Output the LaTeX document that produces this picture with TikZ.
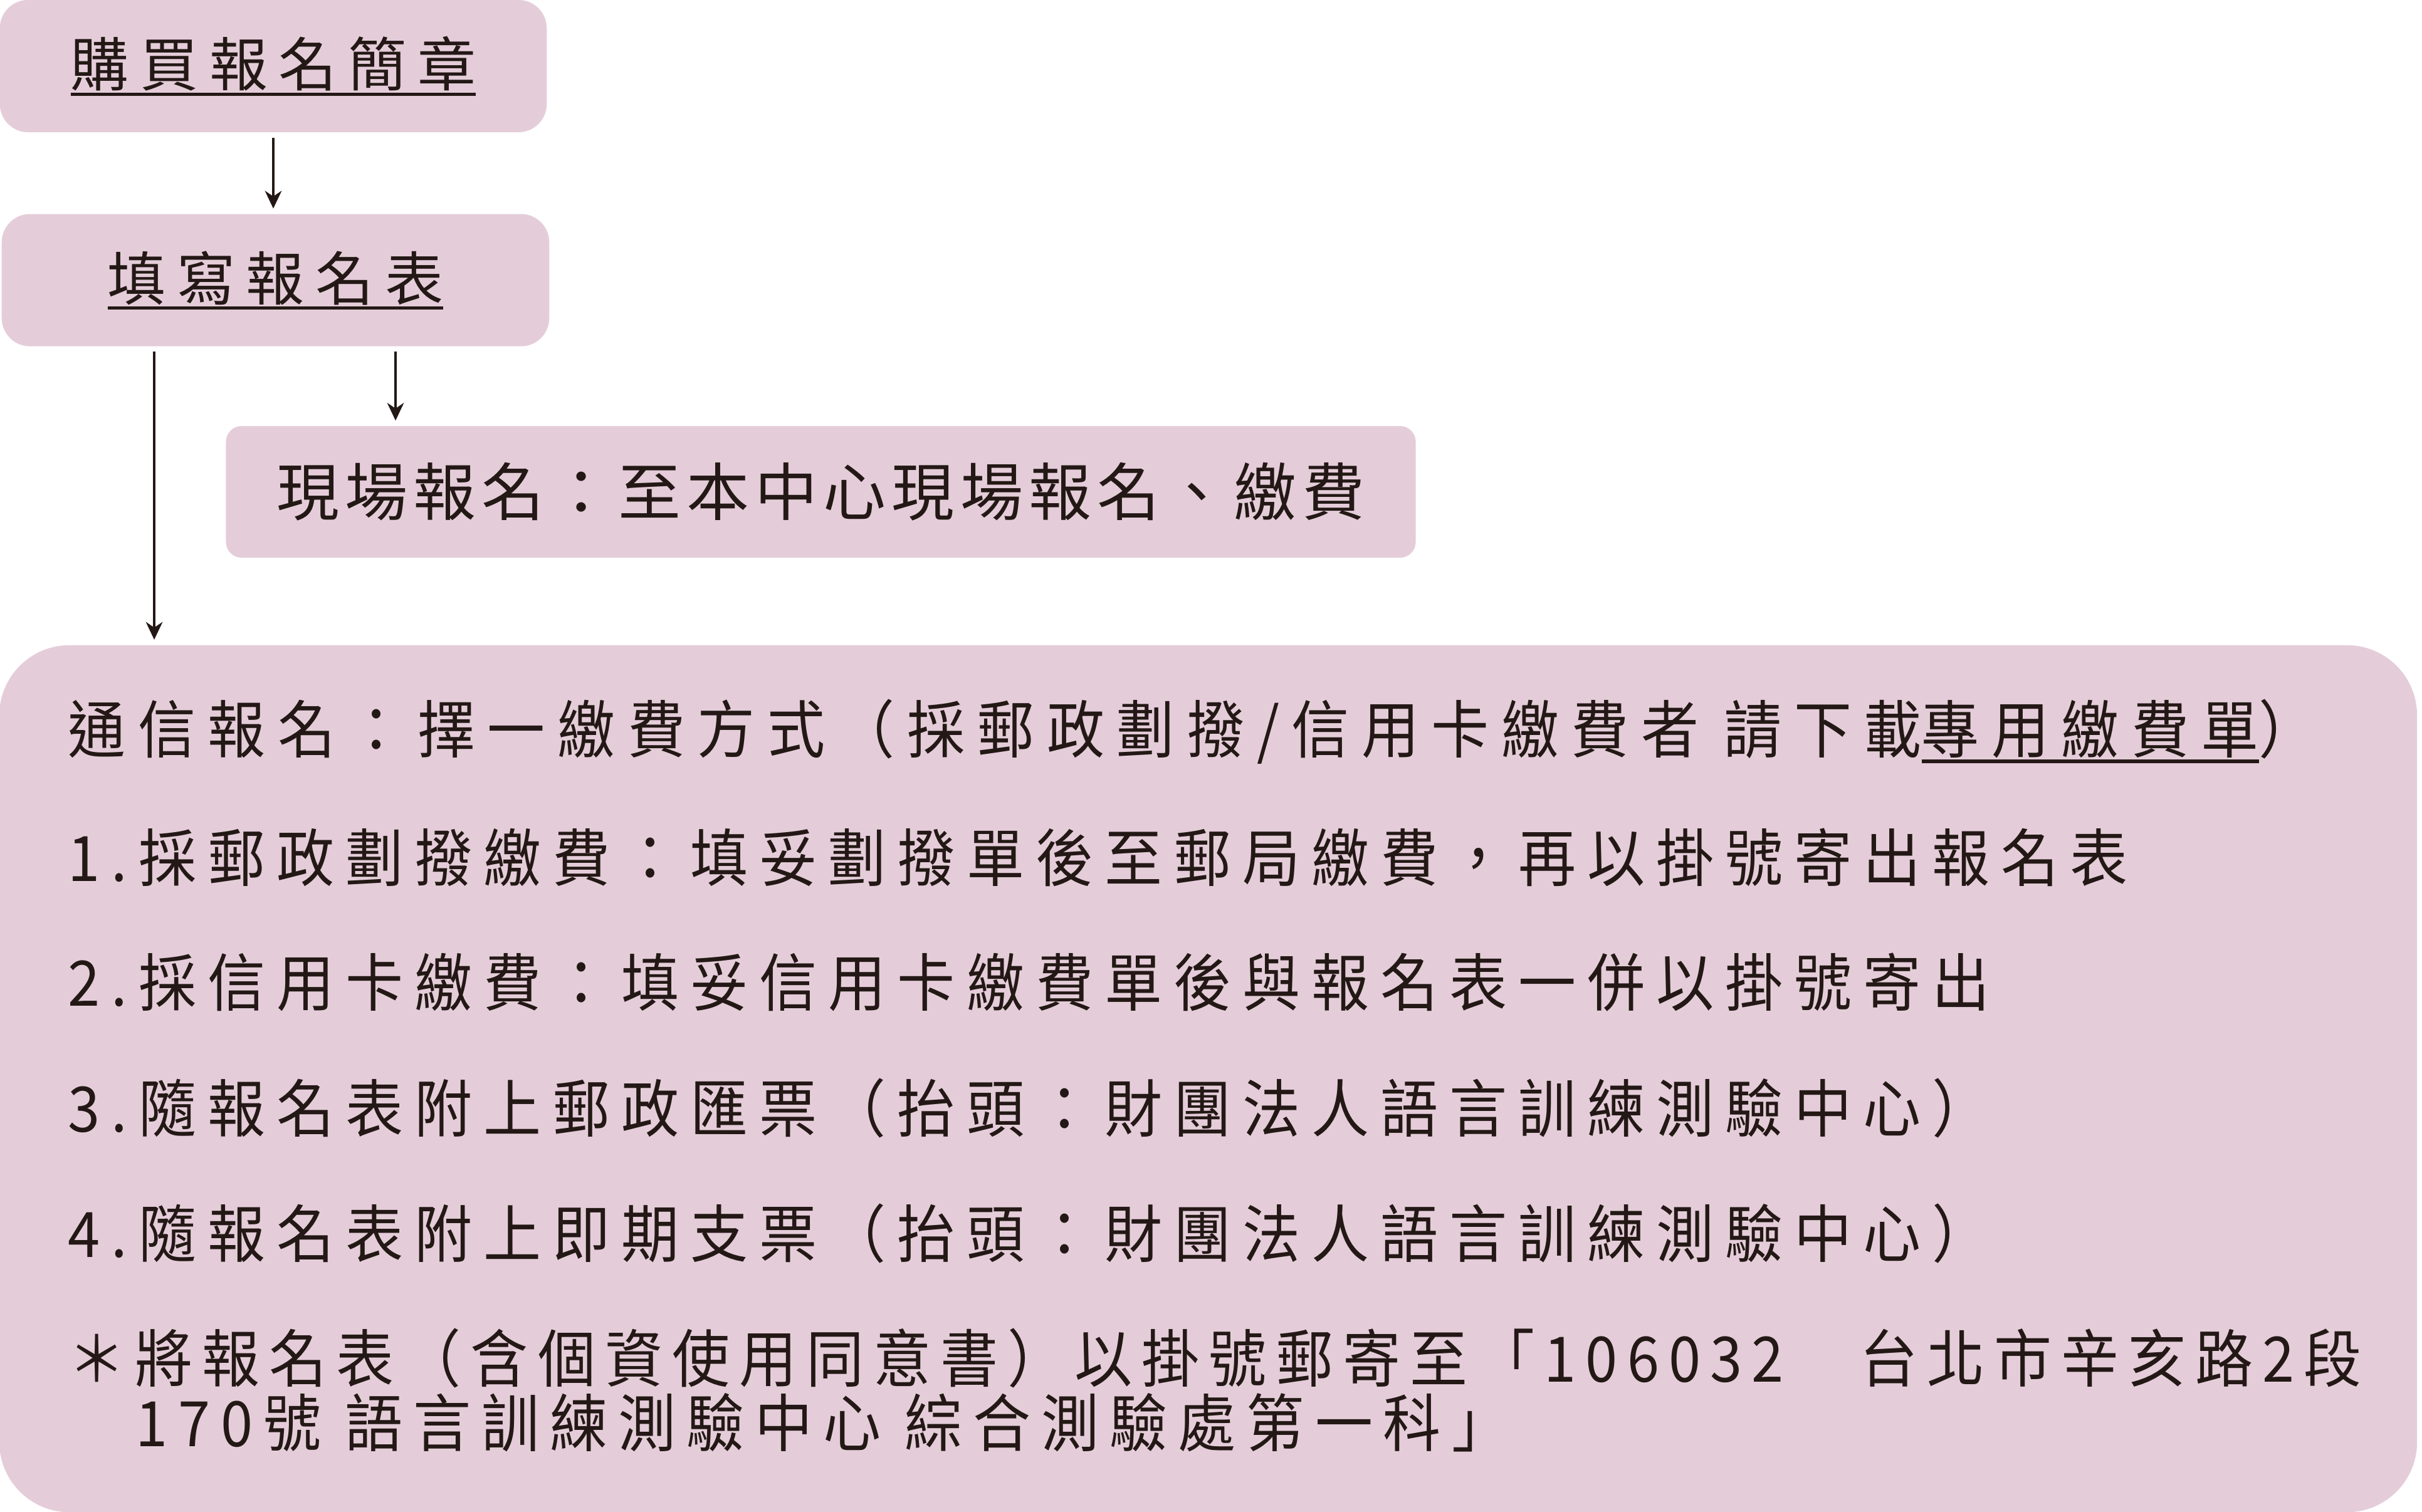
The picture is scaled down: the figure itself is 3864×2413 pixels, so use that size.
\documentclass[tikz,border=0pt]{standalone}
\usepackage{fontspec}
\usetikzlibrary{%
    arrows.meta,
    calc,
    positioning
}

\newfontfamily\stagefont[LetterSpace=19]{Noto Sans CJK TC}
\newfontfamily\sitefont[LetterSpace=9]{Noto Sans CJK TC}
\newfontfamily\postfont[FakeStretch=0.92,LetterSpace=18]{Noto Sans CJK TC}

\definecolor{regpink}{RGB}{228,205,217}
\definecolor{ink}{RGB}{35,24,21}

% underline with a bar that scales with the font
\newcommand{\ulbar}[1]{\setbox0\hbox{#1}\leavevmode\rlap{\rule[-0.16em]{\wd0}{0.055em}}\box0}

\begin{document}
\begin{tikzpicture}[x=0.01cm, y=-0.01cm,
        stage/.style={fill=regpink, rounded corners=0.45cm, inner sep=0pt,
                      text=ink, minimum height=2.11cm},
        entry/.style={anchor=west, inner sep=0pt, text=ink,
                      font=\fontsize{28.45}{34}\postfont},
        arr/.style={draw=ink, line width=1.3pt,
                    -{Stealth[length=8pt, width=7.5pt, inset=2.5pt]},
                    shorten <=0.08cm, shorten >=0.08cm}
    ]
    \useasboundingbox (0,0) rectangle (3864,2413);

    \node (brochure) [stage, minimum width=8.72cm,
                      font=\fontsize{26.46}{32}\stagefont
                     ] at (436,105.5) {\ulbar{購買報名簡章}};
    \node (form)     [stage, minimum width=8.73cm,
                      font=\fontsize{26.46}{32}\stagefont,
                      below=1.29cm of brochure, xshift=0.035cm
                     ] {\ulbar{填寫報名表}};
    \node (onsite)   [stage, rounded corners=0.25cm, minimum width=18.97cm,
                      minimum height=2.1cm,
                      font=\fontsize{28.45}{34}\sitefont
                     ] at (1309.5,785) {現場報名：至本中心現場報名、繳費};
    \node (post)     [stage, rounded corners=1.12cm, minimum width=38.55cm,
                      minimum height=13.83cm
                     ] at (1927.5,1721.5) {};

    \node (post-0) [entry] at (108,1168)
        {\addfontfeature{LetterSpace=19.5}通信報名：擇一繳費方式（採郵政劃撥/信用卡繳費者 請下載\ulbar{專用繳費單}）};
    \foreach \Name/\Y/\Text in {%
        1/1368/{1.採郵政劃撥繳費：填妥劃撥單後至郵局繳費，再以掛號寄出報名表},
        2/1568/{2.採信用卡繳費：填妥信用卡繳費單後與報名表一併以掛號寄出},
        3/1768/{3.隨報名表附上郵政匯票（抬頭：財團法人語言訓練測驗中心）},
        4/1968/{4.隨報名表附上即期支票（抬頭：財團法人語言訓練測驗中心）}%
        }
        \node (post-\Name) [entry] at (108,\Y) {\Text};
    \node (post-5) [entry] at (108,2167)
        {\addfontfeature{LetterSpace=15}＊將報名表（含個資使用同意書）以掛號郵寄至「106032　台北市辛亥路2段};
    \node (post-6) [entry] at (216,2270)
        {\addfontfeature{LetterSpace=17}170號 語言訓練測驗中心 綜合測驗處第一科」};

    \coordinate (split-l) at ($(form.south west)+(244,0)$);
    \coordinate (split-r) at ($(form.south west)+(629,0)$);

    \draw[arr] (brochure.south) -- (brochure.south |- form.north);
    \draw[arr] (split-l) -- (split-l |- post.north);
    \draw[arr] (split-r) -- (split-r |- onsite.north);
\end{tikzpicture}
\end{document}
